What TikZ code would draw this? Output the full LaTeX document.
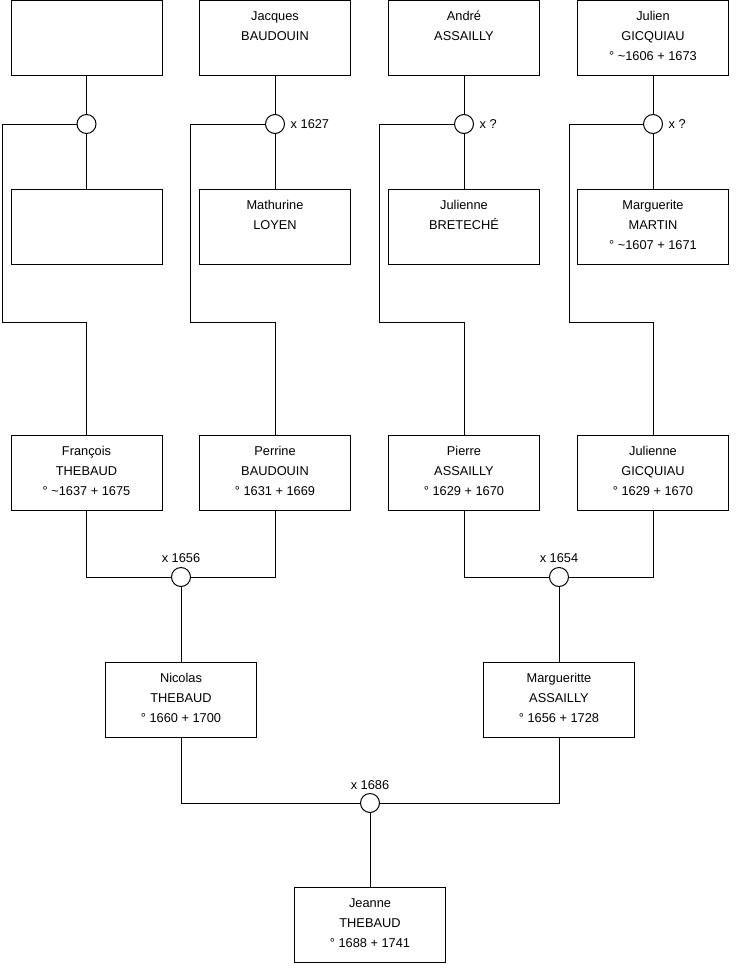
\documentclass[tikz,border=0pt]{standalone}
\usepackage{fontspec}
\setmainfont{Liberation Sans}
\newcommand\ls{\rule[-7.8pt]{0pt}{20pt}}
\begin{document}
\begin{tikzpicture}[x=1pt,y=-1pt,
 box/.style={draw, line width=1pt, minimum width=151pt, minimum height=75pt, inner sep=0pt, align=center, font=\fontsize{12.8}{20}\selectfont, anchor=north, fill=white},
 ring/.style={circle, draw, line width=1pt, minimum size=19pt, inner sep=0pt, fill=white},
 link/.style={line width=1pt},
 lbl/.style={font=\fontsize{12.8}{15}\selectfont, inner sep=0pt}]
\useasboundingbox (0,0) rectangle (740,975);
% links first (drawn under)
\coordinate (w1) at (2,322);
\coordinate (w2) at (190,322);
\coordinate (w3) at (379,322);
\coordinate (w4) at (569,322);
% top row
\node[box] (A1) at (86.5,0) {\ls\\\ls\\\ls};
\node[box] (A2) at (275,0) {\ls Jacques\\\ls BAUDOUIN\\\ls};
\node[box] (A3) at (464,0) {\ls André\\\ls ASSAILLY\\\ls};
\node[box] (A4) at (653,0) {\ls Julien\\\ls GICQUIAU\\\ls ° \textasciitilde1606 + 1673};
% second row
\node[box] (B1) at (86.5,189) {\ls\\\ls\\\ls};
\node[box] (B2) at (275,189) {\ls Mathurine\\\ls LOYEN\\\ls};
\node[box] (B3) at (464,189) {\ls Julienne\\\ls BRETECHÉ\\\ls};
\node[box] (B4) at (653,189) {\ls Marguerite\\\ls MARTIN\\\ls ° \textasciitilde1607 + 1671};
% third row
\node[box] (C1) at (86.5,435) {\ls François\\\ls THEBAUD\\\ls ° \textasciitilde1637 + 1675};
\node[box] (C2) at (275,435) {\ls Perrine\\\ls BAUDOUIN\\\ls ° 1631 + 1669};
\node[box] (C3) at (464,435) {\ls Pierre\\\ls ASSAILLY\\\ls ° 1629 + 1670};
\node[box] (C4) at (653,435) {\ls Julienne\\\ls GICQUIAU\\\ls ° 1629 + 1670};
% fourth row
\node[box] (D1) at (181,662) {\ls Nicolas\\\ls THEBAUD\\\ls ° 1660 + 1700};
\node[box] (D2) at (559,662) {\ls Margueritte\\\ls ASSAILLY\\\ls ° 1656 + 1728};
% fifth row
\node[box] (E) at (370,887) {\ls Jeanne\\\ls THEBAUD\\\ls ° 1688 + 1741};
% marriage rings
\node[ring] (c1) at (86.5,124) {};
\node[ring] (c2) at (275,124) {};
\node[ring] (c3) at (464,124) {};
\node[ring] (c4) at (653,124) {};
\node[ring] (m1) at (181,577) {};
\node[ring] (m2) at (559,577) {};
\node[ring] (m3) at (370,803) {};
% connectors
\draw[link] (A1.south) -- (c1.north);
\draw[link] (c1.south) -- (B1.north);
\draw[link] (A2.south) -- (c2.north);
\draw[link] (c2.south) -- (B2.north);
\draw[link] (A3.south) -- (c3.north);
\draw[link] (c3.south) -- (B3.north);
\draw[link] (A4.south) -- (c4.north);
\draw[link] (c4.south) -- (B4.north);
\draw[link] (c1.west) -| (w1) -| (C1.north);
\draw[link] (c2.west) -| (w2) -| (C2.north);
\draw[link] (c3.west) -| (w3) -| (C3.north);
\draw[link] (c4.west) -| (w4) -| (C4.north);
\draw[link] (C1.south) |- (m1.west);
\draw[link] (C2.south) |- (m1.east);
\draw[link] (C3.south) |- (m2.west);
\draw[link] (C4.south) |- (m2.east);
\draw[link] (m1.south) -- (D1.north);
\draw[link] (m2.south) -- (D2.north);
\draw[link] (D1.south) |- (m3.west);
\draw[link] (D2.south) |- (m3.east);
\draw[link] (m3.south) -- (E.north);
% labels
\node[lbl, anchor=west] (l2) at ([xshift=5.5pt]c2.east) {x 1627};
\node[lbl, anchor=west] (l3) at ([xshift=5.5pt]c3.east) {x ?};
\node[lbl, anchor=west] (l4) at ([xshift=5.5pt]c4.east) {x ?};
\node[lbl] (lm1) at (181,558) {x 1656};
\node[lbl] (lm2) at (559,558) {x 1654};
\node[lbl] (lm3) at (370,785) {x 1686};
\end{tikzpicture}
\end{document}
